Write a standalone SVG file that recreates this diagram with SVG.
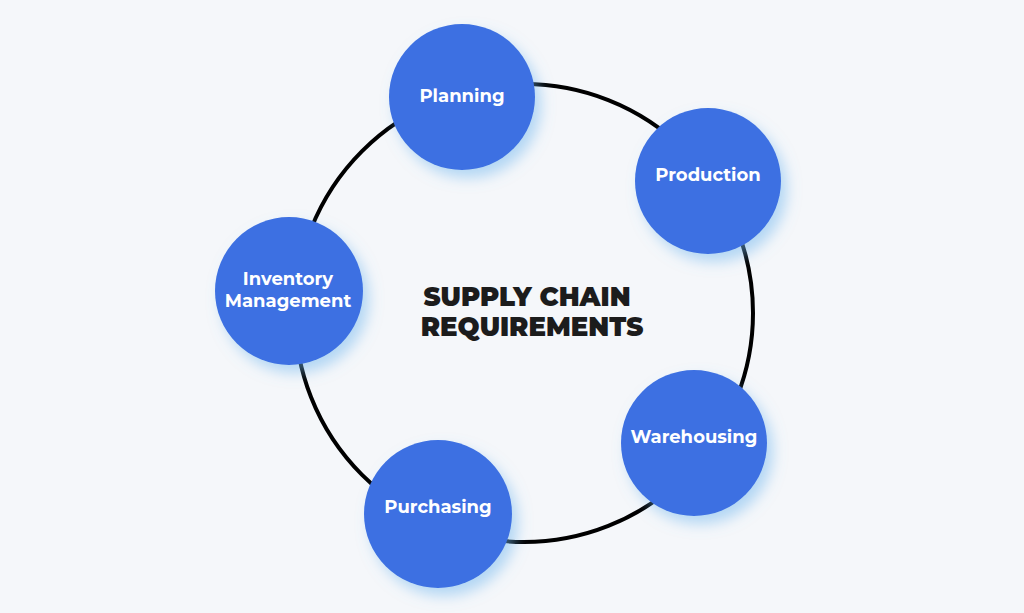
<svg xmlns="http://www.w3.org/2000/svg" width="1024" height="613" viewBox="0 0 1024 613">
<defs>
<filter id="glow" x="-30%" y="-30%" width="160%" height="160%">
<feDropShadow dx="6" dy="8" stdDeviation="7" flood-color="#6fb6ee" flood-opacity="0.5"/>
</filter>
<style>
.node{fill:#3D70E2;filter:url(#glow)}
.lbl{font-family:Montserrat,Inter,"Open Sans",sans-serif;font-weight:700;font-size:18px;fill:#ffffff;text-anchor:middle}
.title{font-family:Montserrat,Inter,"Liberation Sans",sans-serif;font-weight:900;font-size:26px;fill:#1c1c1c;text-anchor:middle}
.ring{fill:none;stroke:#000;stroke-width:4}
</style>
</defs>
<rect width="1024" height="613" fill="#F5F7FA"/>
<g id="connectors">
<circle class="ring" cx="524" cy="313" r="229"/>
</g>
<g id="title">
<text class="title" x="527" y="306">SUPPLY CHAIN</text>
<text class="title" x="532" y="336">REQUIREMENTS</text>
</g>
<g id="planning">
<circle class="node" cx="462" cy="97" r="73"/>
<text class="lbl" x="462" y="102">Planning</text>
</g>
<g id="production">
<circle class="node" cx="708" cy="181" r="73"/>
<text class="lbl" x="708" y="181">Production</text>
</g>
<g id="inventory">
<circle class="node" cx="289" cy="291" r="74"/>
<text class="lbl" x="288" y="285">Inventory</text>
<text class="lbl" x="288" y="307">Management</text>
</g>
<g id="warehousing">
<circle class="node" cx="694" cy="443" r="73"/>
<text class="lbl" x="694" y="443">Warehousing</text>
</g>
<g id="purchasing">
<circle class="node" cx="438" cy="514" r="74"/>
<text class="lbl" x="438" y="513">Purchasing</text>
</g>
</svg>
